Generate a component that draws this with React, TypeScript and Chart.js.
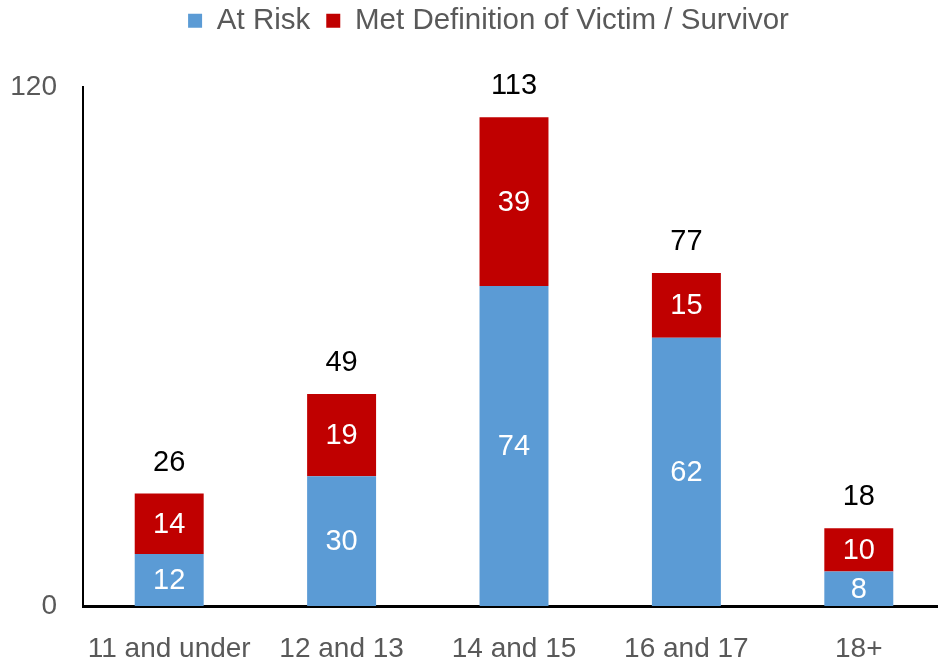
import React, { useEffect, useRef } from "react";
import { Chart, registerables } from "chart.js";

Chart.register(...registerables);

const categories = ["11 and under", "12 and 13", "14 and 15", "16 and 17", "18+"];
const atRisk = [12, 30, 74, 62, 8];
const metDefinition = [14, 19, 39, 15, 10];
const totals = [26, 49, 113, 77, 18];
const yTicks = [0, 120];

const FONT = "'Liberation Sans Narrow', 'Arial Narrow', 'Liberation Sans', Arial, sans-serif";
const FS_AXIS = 28;
const FS_VAL = 29;
const FS_LEGEND = 29.5;
const GRAY = "#595959";

const labelPlugin = {
  id: "barLabels",
  afterInit(chart: any) {
    const lg = chart.legend;
    if (lg && !lg.__patched) {
      lg.__patched = true;
      const origFit = lg.fit.bind(lg);
      lg.fit = function () {
        origFit();
        this.height = 87;
      };
      const origDraw = lg.draw.bind(lg);
      lg.draw = function () {
        const ctx = chart.ctx;
        ctx.save();
        ctx.translate(16, -10);
        origDraw();
        ctx.restore();
      };
    }
  },
  afterDatasetsDraw(chart: any) {
    const ctx = chart.ctx;
    ctx.save();
    ctx.font = `${FS_VAL}px ${FONT}`;
    ctx.textAlign = "center";
    ctx.textBaseline = "middle";
    chart.data.datasets.forEach((ds: any, i: number) => {
      const meta = chart.getDatasetMeta(i);
      meta.data.forEach((bar: any, j: number) => {
        const p = bar.getProps(["x", "y", "base"], true);
        ctx.fillStyle = "#ffffff";
        ctx.fillText(String(ds.data[j]), p.x, (p.y + p.base) / 2 + 1);
      });
    });
    const last = chart.getDatasetMeta(chart.data.datasets.length - 1);
    last.data.forEach((bar: any, j: number) => {
      const p = bar.getProps(["x", "y"], true);
      ctx.fillStyle = "#000000";
      ctx.fillText(String(totals[j]), p.x, p.y - 31);
    });
    ctx.restore();
  },
};

export default function App() {
  const ref = useRef<HTMLCanvasElement>(null);
  useEffect(() => {
    if (!ref.current) return;
    const chart = new Chart(ref.current, {
      type: "bar",
      data: {
        labels: categories,
        datasets: [
          {
            label: "At Risk",
            data: atRisk,
            backgroundColor: "#5B9BD5",
            barPercentage: 0.4,
            categoryPercentage: 1,
          },
          {
            label: "Met Definition of Victim / Survivor",
            data: metDefinition,
            backgroundColor: "#C00000",
            barPercentage: 0.4,
            categoryPercentage: 1,
          },
        ],
      },
      options: {
        responsive: false,
        animation: false,
        layout: { padding: 0 },
        plugins: {
          legend: {
            position: "top",
            labels: {
              font: { family: FONT, size: FS_LEGEND },
              color: GRAY,
              boxWidth: 14,
              boxHeight: 14,
              padding: 16,
            },
          },
          tooltip: { enabled: false },
        },
        scales: {
          x: {
            stacked: true,
            grid: { display: false, drawTicks: false },
            border: { color: "#000000", width: 3 },
            ticks: {
              font: { family: FONT, size: FS_AXIS },
              color: GRAY,
              padding: 26,
              maxRotation: 0,
              minRotation: 0,
              autoSkip: false,
            },
            afterFit: (s: any) => {
              s.height = 58;
            },
          },
          y: {
            stacked: true,
            min: 0,
            max: 120,
            afterBuildTicks: (s: any) => {
              s.ticks = yTicks.map((v) => ({ value: v }));
            },
            grid: { display: false, drawTicks: false },
            border: { color: "#000000", width: 2 },
            ticks: { font: { family: FONT, size: FS_AXIS }, color: GRAY, padding: 26 },
            afterFit: (s: any) => {
              s.width = 83;
            },
          },
        },
      },
      plugins: [labelPlugin],
    });
    return () => chart.destroy();
  }, []);
  return (
    <div style={{ position: "fixed", left: 0, top: 0, width: 938, height: 664, overflow: "hidden", background: "#fff" }}>
      <canvas ref={ref} width={945} height={664} style={{ display: "block" }} />
    </div>
  );
}
